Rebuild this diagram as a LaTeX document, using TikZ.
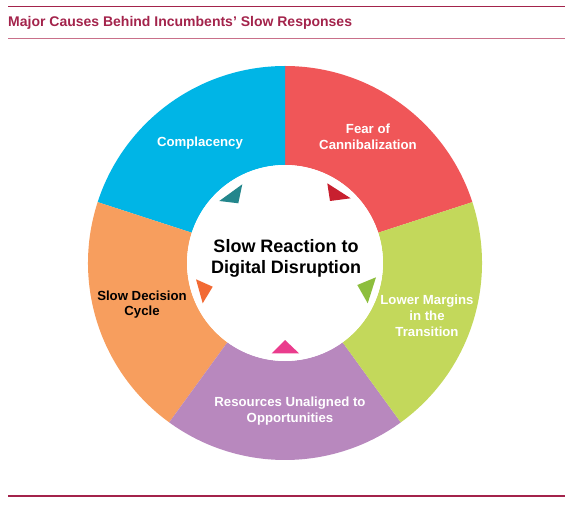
\documentclass[tikz,border=0pt]{standalone}
\usepackage{fontspec}
\setmainfont{Liberation Sans}
\usetikzlibrary{calc}
\definecolor{crimson}{HTML}{A3234B}
\definecolor{rulepink}{HTML}{C9708A}
\definecolor{segcyan}{HTML}{00B5E6}
\definecolor{segred}{HTML}{F05658}
\definecolor{seggreen}{HTML}{C3D85B}
\definecolor{segpurple}{HTML}{B888BE}
\definecolor{segorange}{HTML}{F79E5E}
\definecolor{tteal}{HTML}{23868C}
\definecolor{tred}{HTML}{C8202F}
\definecolor{tgreen}{HTML}{8DBE3D}
\definecolor{tpink}{HTML}{EA3C8D}
\definecolor{torange}{HTML}{F26A34}
\begin{document}
\begin{tikzpicture}[x=1pt,y=1pt,
  seglabel/.style={font=\fontsize{13.2}{15.8}\selectfont\bfseries,text=white,align=center,inner sep=0pt},
  centerlabel/.style={font=\fontsize{18}{21}\selectfont\bfseries,text=black,align=center,inner sep=0pt}]
\useasboundingbox (0,0) rectangle (573,504);
\coordinate (c) at (285,241);
\def\Ro{197}\def\Ri{98}
% ring segments
\foreach \a/\b/\col in {18/90/segred,90/162/segcyan,162/234/segorange,234/306/segpurple,306/378/seggreen}{
  \fill[\col] ($(c)+(\a:\Ro)$) arc[start angle=\a,end angle=\b,radius=\Ro]
    -- ($(c)+(\b:\Ri)$) arc[start angle=\b,end angle=\a,radius=\Ri] -- cycle;
}
\fill[white] (c) circle[radius=\Ri];
% triangles
\fill[tteal] (219.3,303) -- (242.3,319.7) -- (238.3,300.7) -- cycle;
\fill[tred] (327.3,320.7) -- (350.7,305.7) -- (330,303) -- cycle;
\fill[tgreen] (357.3,219) -- (376,226.7) -- (367.7,200.7) -- cycle;
\fill[torange] (196,224.7) -- (212.7,217.3) -- (202.7,200.7) -- cycle;
\fill[tpink] (271.7,150.7) -- (285,164) -- (299,150.7) -- cycle;
% labels
\node[seglabel] (complacency) at (200,361) {Complacency};
\node[seglabel] (fear) at (368,367.5) {Fear of\\Cannibalization};
\node[seglabel] (margins) at (427,188) {Lower Margins\\in the\\Transition};
\node[seglabel] (resources) at (290,93) {Resources Unaligned to\\Opportunities};
\node[seglabel,text=black] (decision) at (142,199.5) {Slow Decision\\Cycle};
\node[centerlabel] (center) at (286,246) {Slow Reaction to\\Digital Disruption};
% title and rules
\draw[draw=crimson,line width=1pt] (8,497) -- (565,497);
\node[anchor=west,inner sep=0pt,font=\fontsize{14}{16}\selectfont\bfseries,text=crimson] (title) at (8,481) {Major Causes Behind Incumbents’ Slow Responses};
\draw[draw=rulepink,line width=1pt] (8,465) -- (565,465);
\draw[draw=crimson,line width=1.2pt] (8,8) -- (565,8);
\end{tikzpicture}
\end{document}
